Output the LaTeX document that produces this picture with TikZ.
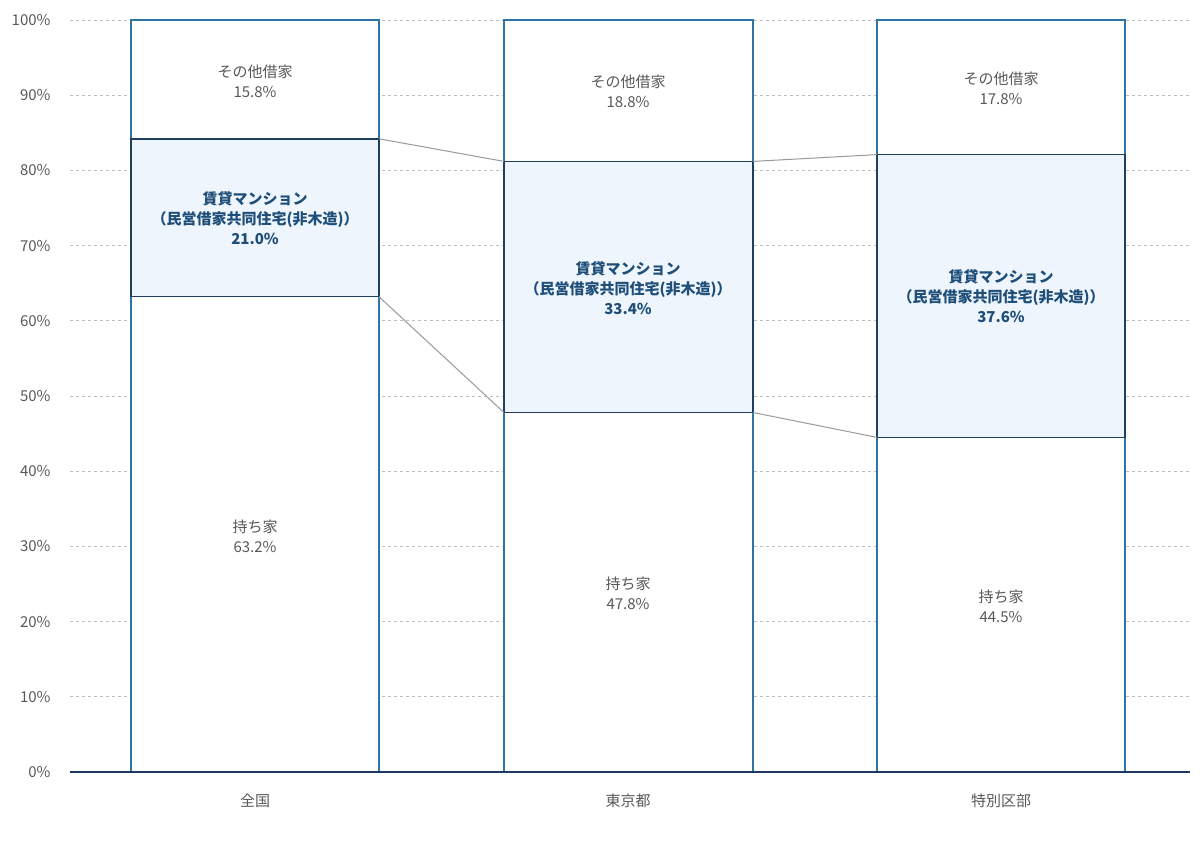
\documentclass[tikz,border=0pt]{standalone}
\usepackage{fontspec}
\setmainfont{Noto Sans CJK JP}
\definecolor{grid}{HTML}{BFBFBF}
\definecolor{axis}{HTML}{1F3864}
\definecolor{barline}{HTML}{2E75A6}
\definecolor{midfill}{HTML}{EEF5FC}
\definecolor{midline}{HTML}{1F3F60}
\definecolor{lbl}{HTML}{595959}
\definecolor{boldlbl}{HTML}{1F4E79}
\begin{document}
\begin{tikzpicture}[x=1pt,y=-1pt,
  seg/.style={draw=barline,line width=1.5pt,fill=white},
  midseg/.style={draw=midline,line width=1.5pt,fill=midfill},
  txt/.style={text=lbl,font=\fontsize{15}{20}\selectfont,align=center},
  btxt/.style={text=boldlbl,font=\fontsize{15}{20}\selectfont\bfseries,align=center},
  tick/.style={text=lbl,font=\fontsize{15}{18}\selectfont,anchor=east},
  conn/.style={draw=grid!80!black,line width=1pt}]
\useasboundingbox (0,0) rectangle (1200,841);
% grid
\foreach \p in {10,20,...,100}{
  \draw[grid,dashed,line width=0.8pt] (70,{772-7.52*\p}) -- (1190,{772-7.52*\p});
}
\foreach \p in {0,10,...,100}{
  \node[tick] at (54,{772-7.52*\p}) {\p\%};
}
% bars
\newcommand{\mybar}[6]{% name, x1, x2, y own, y mid top
  \path[seg] (#2,772) rectangle (#3,20);
  \coordinate (#1a) at (#2,#4); \coordinate (#1b) at (#3,#4);
  \coordinate (#1c) at (#2,#5); \coordinate (#1d) at (#3,#5);
  \path[midseg] (#1a) rectangle (#1d);
}
\mybar{p}{131}{379}{296.7}{138.8}{}
\mybar{q}{504}{753}{412.5}{161.4}{}
\mybar{r}{877}{1125}{437.4}{154.6}{}
\draw[conn] (pd) -- (qc);
\draw[conn] (pb) -- (qa);
\draw[conn] (qd) -- (rc);
\draw[conn] (qb) -- (ra);
\draw[axis,line width=2pt] (70,772) -- (1190,772);
% labels
\node[txt] (l1o) at (255,81) {その他借家\\15.8\%};
\node[btxt] (l1m) at (255,218) {賃貸マンション\\（民営借家共同住宅(非木造)）\\21.0\%};
\node[txt] (l1h) at (255,536) {持ち家\\63.2\%};
\node[txt] (l2o) at (628,91) {その他借家\\18.8\%};
\node[btxt] (l2m) at (628,288) {賃貸マンション\\（民営借家共同住宅(非木造)）\\33.4\%};
\node[txt] (l2h) at (628,593) {持ち家\\47.8\%};
\node[txt] (l3o) at (1001,88) {その他借家\\17.8\%};
\node[btxt] (l3m) at (1001,296) {賃貸マンション\\（民営借家共同住宅(非木造)）\\37.6\%};
\node[txt] (l3h) at (1001,606) {持ち家\\44.5\%};
\node[txt] (c1) at (255,801) {全国};
\node[txt] (c2) at (628,801) {東京都};
\node[txt] (c3) at (1001,801) {特別区部};
\end{tikzpicture}
\end{document}
